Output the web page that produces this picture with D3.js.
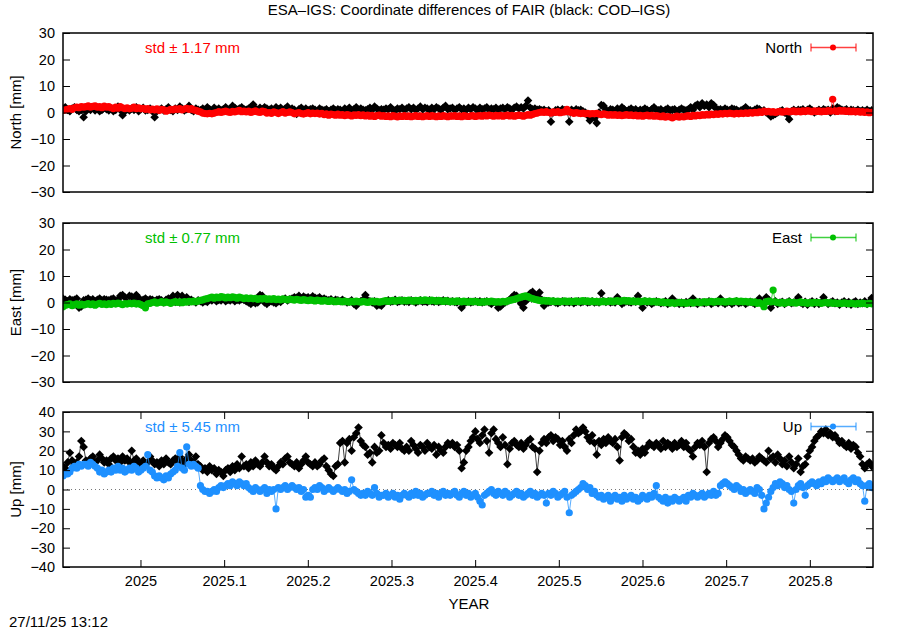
<!DOCTYPE html>
<html><head><meta charset="utf-8">
<script src="https://cdn.jsdelivr.net/npm/d3@7"></script>
<style>body{margin:0;background:#fff}text{font-family:"Liberation Sans",Arial,sans-serif;font-size:15px}</style>
</head><body><svg id="c" width="900" height="630"></svg>
<script>
// time axis: daily solutions starting at this decimal year
const startYear = 2024.9074, endYear = 2025.8755, dayStep = 1/365.25;
const xTickValues = [2025, 2025.1, 2025.2, 2025.3, 2025.4, 2025.5, 2025.6, 2025.7, 2025.8];
const xTickLabels = ["2025","2025.1","2025.2","2025.3","2025.4","2025.5","2025.6","2025.7","2025.8"];
const neTicks = [-30,-20,-10,0,10,20,30];
const upTicks = [-40,-30,-20,-10,0,10,20,30,40];

const northCOD = [
1.5,2,1,0.5,1.5,2,1,0.5,1,-1.8, 0.5,1.5,1,2,0.8,1.5,0.5,1,1.8,1.2,
0.8,1.5,0.5,1,2.2,1,-1,0.5,1.2,0.8, 1.5,1,2,0.5,1.2,1.8,0.8,1,1.5,0.5,
-1.8,0.5,1,1.5,0.8,1.2,2,1,0.5,1.5, 1,2.2,1.5,0.8,1.2,2.5,1,0.5,1.5,1,
0.8,1.5,1,2,1.2,0.5,1.8,1,1.5,0.8, 1.2,2,1,1.5,2.5,1.8,1,1.5,2,1.2,
1,1.5,2,3,1.5,1,1.8,1.2,2,1.5, 1,1.5,0.8,2,1.2,1.8,1,1.5,2.2,1,
1.5,1,-0.5,1.2,1.8,1,1.5,0.8,1.2,1.5, 1,0.5,1.5,1,0.8,1.2,0.5,1,1.5,0.8,
1.2,1,0.5,1.5,1,1.8,0.8,1.2,2,1, 1.5,1,0.8,1.2,1.8,1,2.2,1.5,0.8,1.2,
1,1.5,1.2,2,1,0.8,1.5,1.2,1.8,1, 1.5,2,1.2,1.8,1,1.5,2.2,1.2,1.8,1.5,
1,1.8,1.2,2,1.5,1,1.8,2.5,1.2,1.5, 1.8,1,1.5,2,1.2,1.5,1,1.8,1.2,2,
1.5,1,1.8,1.2,1.5,2,1,1.5,1.2,1.8, 1,1.5,1.8,1.2,2,1.5,1,1.8,2.2,1.5,
2,1.5,2.5,4.5,1.8,1.2,1.5,1,1.2,0.8, 1,0.5,0.8,-3.5,0,0.8,1,0.5,1.2,0.8,
0.5,-3.5,1,0.5,1.2,0.8,1,0.5,0,-1, -3,-1,-2,-4,0,2.8,2.5,1,0.5,1.2,
1,0.5,1.5,0.8,2,1.2,0.5,1,1.5,0.8, 1.2,0.5,1,0.8,1.5,1,0.5,1.2,2,1,
0.8,1.2,0.5,1,1.5,0.8,1,1.2,0.5,1, 1.5,1,0.8,1.2,2,1,2.5,3,2,3.5,
2.5,3,2,3.5,2.8,1.5,1,1.2,0.8,1.5, 1,0.8,1.5,1.2,1,0.5,0.8,1.2,2,1,
0.8,0.5,1,1.5,1.2,0.5,0.8,0,-0.5,-1.5, -1,-0.5,0,0.5,0.8,0,-0.5,-2.5,0.5,1,
0.5,1,0.8,1.2,0.5,1,1.5,0.8,0,0.5, 1,0.5,1.2,0.8,1,0,1.5,0.5,2,1.5,
1,0.8,1.2,0.5,1,0.8,0.5,1,0.5,0.8, 0.5,1,0.5,0.8];

const northESA = [
0.8,1,1.2,1.5,1.2,1.8,2,1.8,2.2,2, 2.2,2.5,2,2.3,2.5,2,2.2,1.8,2.4,2,
2.2,1.8,1.5,2,1.6,2.2,1.8,1.5,1.8,1.4, 1.6,2,1.5,1.8,1.4,1.6,1.2,1.5,1,1.3,
1,1.4,0.8,1.2,1,0.5,0.8,1.2,1,1.4, 1.2,1.5,1,1.3,1.6,1.2,1.5,1,0.8,0.5,
0.2,-0.2,-0.4,-0.5,-0.3,-0.5,-0.2,0,0.3,0, 0.3,0.5,0.2,0,0.4,0.2,0.5,0.8,0.3,0.5,
0.2,0.5,0,0.3,0.6,0.2,0,0.5,0.3,-0.2, 0,-0.3,0.2,0,-0.4,0,0.3,-0.2,0,0.2,
0,-0.5,-0.2,0,-0.4,-0.6,-0.3,0,-0.5,-0.2, -0.4,-0.2,-0.6,-0.3,-0.8,-0.5,-1,-0.6,-0.8,-1,
-0.6,-1,-0.8,-1.2,-0.8,-1,-1.3,-0.9,-1.1,-0.8, -1.2,-0.9,-1.3,-1,-1.4,-1.1,-1.5,-1.2,-1,-1.4,
-1.2,-1.5,-1.3,-1.6,-1.2,-1.4,-1.7,-1.3,-1.5,-1.2, -1.5,-1.3,-1.6,-1.4,-1.2,-1.5,-1.3,-1.6,-1.4,-1.2,
-1.5,-1.2,-1.4,-1.6,-1.3,-1.5,-1.2,-1.4,-1.6,-1.3, -1.4,-1.2,-1.5,-1.3,-1.6,-1.2,-1.4,-1.5,-1.3,-1.2,
-1.5,-1.3,-1.2,-1.4,-1.1,-1.3,-1,-1.2,-1.4,-1.1, -1.3,-1.1,-1.4,-1.2,-1,-1.3,-1.1,-1.4,-1.2,-1,
-1.2,-1.4,-1.1,-0.8,-1,-0.7,-0.4,-0.2,0,0.2, 0,0.3,0,-0.2,0.2,0,0.3,-0.1,0.1,0.2,
1.2,0.2,0,-0.3,0,-0.2,-0.4,-0.2,-0.5,-0.3, -0.6,-0.4,-0.5,-0.3,-0.6,-0.8,-0.5,-0.7,-1,-0.8,
-1,-0.8,-1.1,-0.9,-1.2,-1,-0.8,-1.1,-0.9,-1.2, -1,-1.3,-1.1,-1.4,-1.2,-1,-1.3,-1.1,-1.4,-1.2,
-1.4,-1.6,-1.3,-1.8,-1.5,-1.7,-2,-1.6,-1.4,-1.8, -1.5,-1.7,-1.4,-1.2,-1.5,-1.1,-1.3,-1,-1.2,-0.8,
-1,-0.7,-0.9,-0.6,-0.8,-0.5,-0.7,-0.4,-0.6,-0.3, -0.5,-0.2,-0.4,-0.6,-0.3,-0.5,-0.2,-0.4,-0.1,-0.3,
0,-0.2,0.1,-0.1,0.2,0,0.5,0.2,0.4,0.1, 0.3,0,0.2,0.4,0.1,0.3,0.5,0.2,0.4,0.6,
0.3,0.5,0.2,0.6,0.4,0.7,0.5,0.3,0.6,0.4, 0.6,0.3,0.5,0.4,0.7,0.5,5,0.6,0.4,0.8,
0.5,0.7,0.4,0.6,0.3,0.5,0.2,0.4,0.1,0.3, 0,0.2,-0.1,0.1];

const eastCOD = [
1.5,1,0.5,1.2,0.8,1,1.5,-2,-1.5,0.8, 1,1.5,0.8,1.2,0.5,1,1.5,0.8,1.2,1,
0.8,1.2,1.5,0.5,1,2.5,2.8,2,0,2.5, 2.2,0.5,2.8,1.8,0.2,1,1.5,0.8,1.2,1,
0.5,1,1.2,0.8,0,1,1.5,0.8,2.5,0.2, 2.8,0,2.5,0.5,2,0.2,1,0.5,0,0.8,
0.5,0,0.5,0.2,1,0.8,1.2,0.5,1,0.8, 1.5,0.5,1,0.8,1.2,0.5,1,0.8,1.2,1,
0.5,0,-0.5,0.2,-0.3,0,2.8,2.5,0,-0.5, 0.2,0.5,0,-0.3,0.5,0.2,1,1.5,0.8,1.2,
1.5,2,1.8,2.5,1.5,2.2,1.8,2,1.5,2.3, 1.8,1.5,2,1.2,1.5,1,0.8,1.2,0.5,1,
0.8,0.5,1,0.5,0,0.3,0.8,-0.5,-1.2,0, 0.5,1,2.8,0.8,0.5,0,0.5,-1.2,-0.8,-1.2,
0,0.5,0.8,0.3,0.5,1,0.2,0.5,0.8,0.3, 0.5,0.2,0.8,0.5,0,0.5,0.8,0.3,0.5,0.2,
0.8,0.5,0.3,0.6,0.2,0.5,0.8,0.4,0.6,0.3, 0.5,0.2,0,0.5,-2,-0.5,0.2,0.5,0,0.3,
0.5,0.2,0.5,0,0.3,0.5,0,-0.5,0.2,0, -2,-1.5,-0.5,0,0.5,1,2,2.8,2.5,1,
-0.5,-2,0.5,1.5,3.5,4,3,2.5,3.8,1, -1.2,0.5,0,0.2,0.5,0,-0.3,0.2,0.5,0,
0.3,0,0.5,-0.3,0.2,0.5,0,0.3,0.5,0, 0.2,0.5,0,0.3,0,3.5,0.5,0.2,0.5,0,
0.3,0,2,0.5,-0.5,0,0.5,0.2,0,0.5, 0.3,2.5,0.2,-2,0.5,0,0.3,-0.5,0,0.5,
0.2,-0.3,0,0.5,-0.5,0,1.5,-0.3,0,-0.5, 0,-0.5,0.2,0,-0.3,1.5,0,-0.5,0.2,0,
-0.3,0,0.5,-0.5,0,0.2,-0.3,1.5,0,-0.5, 0,0.3,-0.5,0,0.5,-0.3,0,0.2,-0.5,0,
0.3,0,-0.5,0.2,1.5,0,-0.5,2,1,-2, 0,0.5,-0.5,0,0.3,-0.5,0,0.5,-0.3,0,
0.5,2,0,-0.5,0.3,-0.8,0,0.5,-0.5,0.2, -0.5,0,2,0.3,-0.5,0,0.5,-0.3,0,-0.8,
0,0.5,-0.5,0.2,-0.8,0,0.5,-0.5,0,-0.3, 0.5,-0.5,0.2,1.7];

const eastESA = [
-1.6,-1,-0.8,-0.5,-1.2,-0.8,-0.5,-1,-0.6,-0.9, -0.7,-0.4,-0.8,-0.5,-1,-0.6,-0.3,-0.7,-0.5,-0.8,
-0.4,-0.7,-0.3,-0.6,-0.2,-0.5,-0.8,-0.4,-0.6,-0.3, -0.5,-0.2,-0.6,-0.4,-0.8,-1.2,-2,-0.5,-0.3,0,
0.2,-0.2,0,0.3,-0.1,0.2,0,-0.3,0.1,0.3, 0,0.2,-0.1,0.3,0.1,0.4,0.2,0.5,0.3,0.6,
0.8,1,1.3,1.5,1.8,2,1.6,2,1.8,2.2, 2,1.7,2,1.8,2.1,1.9,1.6,2,1.8,1.5,
1.8,1.5,1.7,1.4,1.6,1.2,1.5,1.3,1.6,1.2, 1.4,1.2,1.5,1.1,1.3,1,1.4,1.2,1,1.3,
1.1,0.9,1.2,1,0.8,1.1,0.9,0.7,1,0.8, 0.6,0.9,0.7,0.5,0.8,0.6,0.4,0.7,0.5,0.3,
0.6,0.4,0.2,0.5,0.3,0.1,0.4,0.2,0.5,0.3, 0.1,0.4,0.2,0,0.3,0.5,0.2,0.4,0.1,0.3,
0.5,0.7,0.4,0.6,0.8,0.5,0.7,0.9,0.6,0.8, 0.6,0.9,0.7,0.5,0.8,0.6,0.9,0.7,1,0.8,
0.6,0.9,0.7,0.5,0.8,0.6,0.4,0.7,0.5,0.3, 0.5,0.3,0.6,0.4,0.2,0.5,0.3,0.1,0.4,0.2,
0.4,0.2,0,0.3,0.1,0.4,0.2,0.5,0.3,0.1, 0.3,0.1,0.4,0.2,0.5,0.8,1,1.2,1.5,1.8,
2,2.3,2.5,2.2,1.8,1.5,1.2,1,0.8,0.6, 0.8,0.5,0.7,0.4,0.6,0.3,0.5,0.2,0.4,0.6,
0.3,0.5,0.2,0.4,0.6,0.3,0.5,0.7,0.4,0.6, 0.3,0.5,0.2,0.4,0.1,0.3,0.5,0.2,0.4,0.6,
0.3,0.5,0.7,0.4,0.6,0.8,0.5,0.7,0.4,0.6, 0.3,0.5,0.2,0.4,0.6,0.3,0.5,0.2,0.4,0.1,
0.3,0,0.2,-0.1,0.1,-0.2,0,-0.3,-0.1,0.1, -0.2,0,-0.3,-0.1,0.1,-0.2,0,0.2,-0.1,0.1,
0.3,0,0.2,0.4,0.1,0.3,0.5,0.2,0.4,0.1, 0.3,0.5,0.2,0.4,0.6,0.3,0.5,0.2,0.4,0.1,
0.3,0,0.2,-0.3,0,-0.5,-1.6,0.3,0.5,0.2, 4.7,0.2,0,-0.2,0.1,-0.3,0,0.2,-0.1,0.1,
-0.2,0,0.2,-0.1,0.1,-0.3,0,-0.2,0.1,-0.1, 0,-0.3,-0.1,0.1,-0.2,0,-0.3,-0.1,-0.4,-0.2,
-0.4,-0.1,-0.3,-0.5,-0.2,-0.4,-0.6,-0.3,-0.5,-0.2, -0.4,-0.6,-0.3,-0.5];

const upCOD = [
12,11,14,19,15,13,14,17,25,22, 15,13,16,17,14,15,18,16,14,15,
13,16,17,15,16,14,17,15,16,14, 20,15,16,14,12,15,13,14,17,15,
13,14,12,15,13,16,14,13,15,16, 14,17,15,13,16,18,15,14,17,13,
12,10,11,9,12,10,11,8,10,9, 7,10,11,9,12,10,13,11,17,12,
13,11,14,12,15,13,12,14,17,14, 12,13,11,10,12,14,13,16,17,14,
13,12,14,11,13,15,17,14,13,12, 14,12,13,15,16,12,10,8,7,12,
13,24,25,14,24,26,20,27,29,32, 25,23,22,18,19,14,22,19,20,28,
24,22,23,21,24,23,22,24,21,20, 22,20,25,23,21,19,23,22,20,24,
22,21,23,18,22,20,19,22,24,23, 24,22,23,20,11,14,20,22,25,27,
30,26,24,28,31,25,19,29,31,26, 24,22,27,23,13,21,24,25,23,22,
24,21,23,25,26,22,21,9,20,24, 26,24,27,28,25,27,26,23,25,22,
20,26,24,28,31,29,30,32,30,27, 25,28,24,18,25,23,26,24,27,25,
24,26,22,15,27,29,28,25,26,22, 19,20,18,21,19,22,24,23,22,24,
23,21,25,22,24,23,21,24,22,23, 25,22,24,21,20,17,22,24,23,25,
22,9,24,26,27,25,22,24,26,28, 27,25,23,22,20,18,16,15,17,16,
15,16,14,15,17,16,15,14,20,16, 17,14,18,16,13,15,12,17,14,11,
13,16,9,12,13,17,20,22,25,27, 28,30,29,31,28,29,27,28,26,24,
25,23,22,24,21,23,22,19,17,13, 11,13,14,12];

const upESA = [
7,8,8,9,11,12,11,13,12,13, 13,12,14,13,12,11,9,10,8,9,
10,9,11,10,12,10,11,9,10,11, 10,12,11,9,10,11,12,18,10,9,
7,6,7,6,5,7,6,8,9,10, 12,19,11,10,22,13,12,13,12,11,
2,0,-1,-1,-2,-1,0,-1,1,2, 1,2,3,2,4,3,2,4,3,2,
3,1,0,-1,1,0,-1,0,1,-2, 0,-1,0,-10,1,0,1,2,0,1,
2,1,0,1,-1,0,-4,-3,-4,0, 1,0,2,1,-1,0,1,0,-1,0,
1,0,-1,0,-2,-1,5,0,-1,-2, -3,-2,-3,-1,-2,-3,1,-2,-4,-3,
-3,-2,-4,-3,-2,-4,-3,-5,-3,-2, -3,-4,-2,-3,-1,-3,-2,-4,-3,-2,
-2,-1,-3,-2,-4,-2,-1,-3,-2,-3, -2,-1,-3,-4,-2,-1,-3,-2,-4,-3,
-2,-4,-6,-8,-3,-2,-1,0,-2,-3, -1,-2,-3,-1,-2,-4,-3,-2,-1,-3,
-2,-4,-3,-2,-1,-3,-2,-4,-3,-2, -3,-7,-2,-3,-1,-2,-4,-3,-2,-1,
-4,-12,-3,-2,-1,0,1,3,2,0, 1,-2,-1,-3,-4,-3,-5,-4,-3,-6,
-4,-3,-5,-4,-6,-3,-5,-4,-3,-5, -4,-6,-5,-3,-4,-5,-3,-4,-2,2,
-4,-5,-6,-4,-7,-5,-6,-4,-5,-6, -5,-4,-6,-3,-4,-2,-3,-4,-3,-2,
-4,-3,-2,-3,-1,-3,-2,2,3,4, 3,2,1,0,2,1,-1,0,-2,-1,
0,-1,-2,1,0,-3,-10,-7,-4,-1, 1,3,2,4,3,1,2,0,-1,-7,
0,2,3,1,-3,2,3,4,3,2, 4,3,5,4,6,5,4,5,6,4,
5,6,4,3,5,6,4,5,3,2, -6,2,3,1];

const panelNames = ["North","East","Up"];
const panelColors = ["#ff0000","#00c000","#1e90ff"];
const panelStd = ["1.17","0.77","5.45"];

const panels = [
  {name:panelNames[0], cod:northCOD, esa:northESA, color:panelColors[0], std:panelStd[0], dom:[-30,30], ticks:neTicks, top:33, bottom:192},
  {name:panelNames[1], cod:eastCOD, esa:eastESA, color:panelColors[1], std:panelStd[1], dom:[-30,30], ticks:neTicks, top:223, bottom:382},
  {name:panelNames[2], cod:upCOD, esa:upESA, color:panelColors[2], std:panelStd[2], dom:[-40,40], ticks:upTicks, top:412, bottom:567}
];

const L = 63, R = 873;
const svg = d3.select("#c");
const x = d3.scaleLinear().domain([startYear, endYear]).range([L, R]);
const minus = s => String(s).replace("-", "\u2212");
const tickFont = '"Liberation Sans",Arial,sans-serif';

svg.append("text").attr("x", 469).attr("y", 15).attr("text-anchor","middle")
  .text("ESA\u2013IGS: Coordinate differences of FAIR (black: COD\u2013IGS)");

panels.forEach((p, pi) => {
  const y = d3.scaleLinear().domain(p.dom).range([p.bottom, p.top]);
  const g = svg.append("g");
  const clipId = "clip" + pi;
  svg.append("clipPath").attr("id", clipId).append("rect")
    .attr("x", L).attr("y", p.top).attr("width", R - L).attr("height", p.bottom - p.top);

  // zero line
  g.append("line").attr("x1", L).attr("x2", R).attr("y1", y(0)).attr("y2", y(0))
    .attr("stroke", "#777").attr("stroke-width", 1).attr("stroke-dasharray", "1,3");

  const dp = g.append("g").attr("clip-path", `url(#${clipId})`);
  const mk = arr => arr.map((v, i) => ({t: startYear + i * dayStep, v}));
  const cod = mk(p.cod), esa = mk(p.esa);
  const line = d3.line().x(d => x(d.t)).y(d => y(d.v));

  dp.append("path").datum(cod).attr("d", line).attr("fill","none").attr("stroke","#000").attr("stroke-width",1).attr("stroke-opacity",0.75);
  dp.selectAll(".dc").data(cod).enter().append("path")
    .attr("d", d => { const cx = x(d.t), cy = y(d.v), r = 4.3; return `M${cx},${cy-r}L${cx+r},${cy}L${cx},${cy+r}L${cx-r},${cy}Z`; })
    .attr("fill", "#000");

  dp.append("path").datum(esa).attr("d", line).attr("fill","none").attr("stroke",p.color).attr("stroke-width",1).attr("stroke-opacity",0.75);
  dp.selectAll(".de").data(esa).enter().append("circle")
    .attr("cx", d => x(d.t)).attr("cy", d => y(d.v)).attr("r", 3.6).attr("fill", p.color);

  // y axes
  const ya = g.append("g").attr("transform", `translate(${L},0)`)
    .call(d3.axisLeft(y).tickValues(p.ticks).tickSize(-7).tickPadding(8).tickFormat(minus));
  ya.select(".domain").remove();
  ya.selectAll("text").style("font-size","14.5px").style("font-family",tickFont).attr("fill","#000");
  ya.selectAll("line").attr("stroke","#000");
  const yr = g.append("g").attr("transform", `translate(${R},0)`)
    .call(d3.axisRight(y).tickValues(p.ticks).tickSize(-7).tickFormat(""));
  yr.select(".domain").remove();
  yr.selectAll("line").attr("stroke","#000");

  if (pi === 2) {
    const xb = g.append("g").attr("transform", `translate(0,${p.bottom})`)
      .call(d3.axisBottom(x).tickValues(xTickValues).tickSize(-7).tickPadding(9).tickFormat((d,i) => xTickLabels[i]));
    xb.select(".domain").remove();
    xb.selectAll("text").style("font-size","14.5px").style("font-family",tickFont).attr("fill","#000");
    xb.selectAll("line").attr("stroke","#000");
    const xt = g.append("g").attr("transform", `translate(0,${p.top})`)
      .call(d3.axisTop(x).tickValues(xTickValues).tickSize(-7).tickFormat(""));
    xt.select(".domain").remove();
    xt.selectAll("line").attr("stroke","#000");
  }

  // border
  g.append("rect").attr("x", L).attr("y", p.top).attr("width", R - L).attr("height", p.bottom - p.top)
    .attr("fill","none").attr("stroke","#000").attr("stroke-width",1.5);

  // y label
  const cy = (p.top + p.bottom) / 2;
  g.append("text").attr("transform", `translate(21,${cy}) rotate(-90)`).attr("text-anchor","middle").text(p.name + " [mm]");

  // std text
  g.append("text").attr("x", 145).attr("y", p.top + 20).attr("fill", p.color).text(`std \u00b1 ${p.std} mm`);

  // legend
  const ly = p.top + 14.5;
  g.append("text").attr("x", 802).attr("y", ly + 5.5).attr("text-anchor","end").text(p.name);
  const lg = g.append("g").attr("stroke", p.color).attr("stroke-width", 1.3).attr("stroke-opacity", 0.75);
  lg.append("line").attr("x1", 811).attr("x2", 856).attr("y1", ly).attr("y2", ly);
  lg.append("line").attr("x1", 811).attr("x2", 811).attr("y1", ly - 4).attr("y2", ly + 4);
  lg.append("line").attr("x1", 856).attr("x2", 856).attr("y1", ly - 4).attr("y2", ly + 4);
  g.append("circle").attr("cx", 833).attr("cy", ly).attr("r", 3).attr("fill", p.color);
});

svg.append("text").attr("x", 469).attr("y", 609).attr("text-anchor","middle").text("YEAR");
svg.append("text").attr("x", 9).attr("y", 627).text("27/11/25 13:12");
</script></body></html>
